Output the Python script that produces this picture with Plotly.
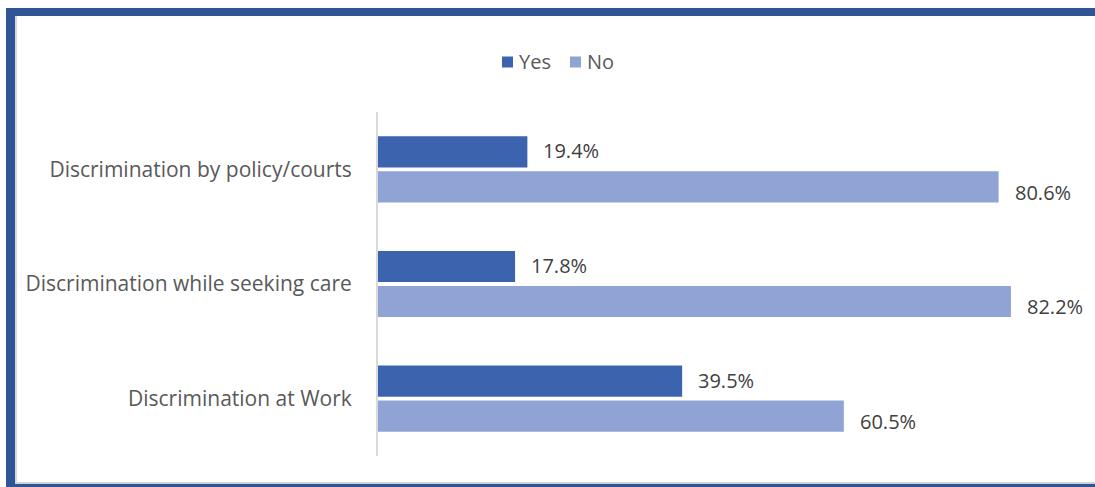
import plotly.graph_objects as go

# Survey responses, top to bottom
categories = [
    "Discrimination by policy/courts",
    "Discrimination while seeking care",
    "Discrimination at Work",
]
series_names = ["Yes", "No"]
yes_pct = [19.4, 17.8, 39.5]
no_pct = [80.6, 82.2, 60.5]

YES_COLOR = "#3c64ae"
NO_COLOR = "#8fa4d5"
FONT = "Open Sans"

W, H = 1095, 487
L, R, T, B = 378, 9, 112, 31
PW, PH = W - L - R, H - T - B


def px_x(px):
    return (px - L) / PW


def px_y(py):
    return 1 - (py - T) / PH


fig = go.Figure()
fig.add_trace(go.Bar(name=series_names[0], y=categories, x=yes_pct, orientation="h",
                     marker=dict(color=YES_COLOR, line=dict(width=0))))
fig.add_trace(go.Bar(name=series_names[1], y=categories, x=no_pct, orientation="h",
                     marker=dict(color=NO_COLOR, line=dict(width=0))))

# Value labels to the right of each bar
annotations = []
for vals, off in ((yes_pct, -0.16), (no_pct, 0.2)):
    for i, v in enumerate(vals):
        annotations.append(dict(
            x=v, y=i + off, xref="x", yref="y", text=f"{v:.1f}%",
            showarrow=False, xanchor="left", yanchor="middle", xshift=14,
            font=dict(family=FONT, size=20, color="#404040"),
        ))

# Legend: small squares with the series names beside them, centred above the bars
shapes = []
legend_items = [(series_names[0], YES_COLOR, 502), (series_names[1], NO_COLOR, 570)]
for name, color, sx in legend_items:
    shapes.append(dict(type="rect", xref="paper", yref="paper",
                       x0=px_x(sx), x1=px_x(sx + 11), y0=px_y(67.5), y1=px_y(56.5),
                       fillcolor=color, line=dict(width=0)))
    annotations.append(dict(x=px_x(sx + 15), y=px_y(62), xref="paper", yref="paper",
                            text=name, showarrow=False, xanchor="left", yanchor="middle",
                            font=dict(family=FONT, size=20, color="#595959")))

# Blue frame around the chart
frame = [
    (6, W + 5, 8, 16, "#2f5597"),
    (6, 15, 8, H + 5, "#2f5597"),
    (15, 17, 16, 483, "#d6d9df"),
    (15, W + 5, 482, 484, "#cfd3da"),
    (15, W + 5, 484, H + 5, "#2f5597"),
]
for x0, x1, y0, y1, c in frame:
    shapes.append(dict(type="rect", xref="paper", yref="paper",
                       x0=px_x(x0), x1=px_x(x1), y0=px_y(y1), y1=px_y(y0),
                       fillcolor=c, line=dict(width=0), layer="above"))

fig.update_layout(
    width=W, height=H,
    margin=dict(l=L, r=R, t=T, b=B),
    paper_bgcolor="white", plot_bgcolor="white",
    barmode="group", bargap=0.39, bargroupgap=0.11,
    font=dict(family=FONT, color="#595959"),
    showlegend=False,
    xaxis=dict(range=[0, PW / 7.7], showgrid=False, zeroline=False,
               showticklabels=False, showline=False, fixedrange=True),
    yaxis=dict(autorange="reversed", showgrid=False, zeroline=False,
               showline=True, linecolor="#d9d9d9", linewidth=2,
               ticks="", ticklabelstandoff=20,
               tickfont=dict(family=FONT, size=21, color="#595959")),
    annotations=annotations,
    shapes=shapes,
)

fig.write_html("out.html")
